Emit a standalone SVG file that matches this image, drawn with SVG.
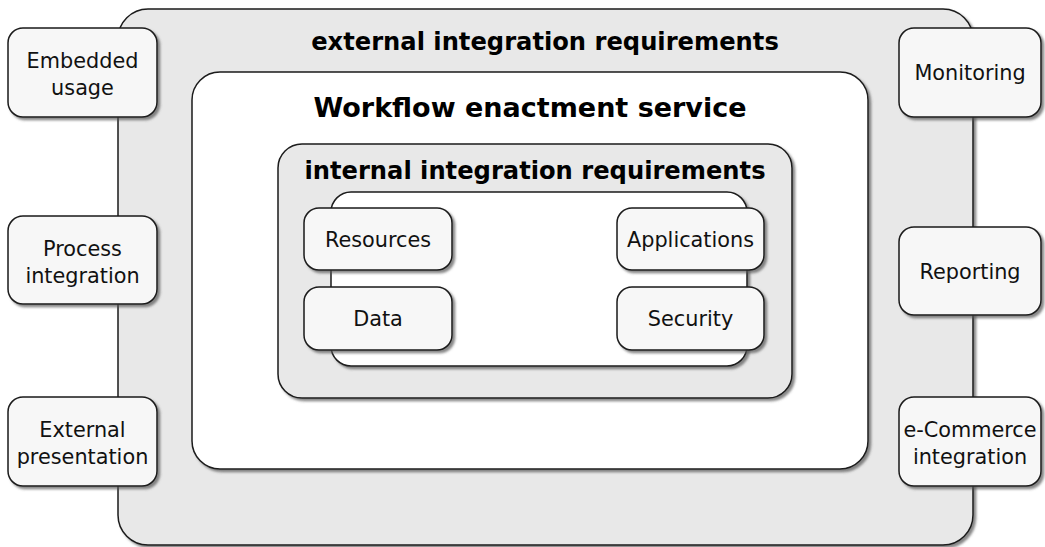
<svg xmlns="http://www.w3.org/2000/svg" width="1045" height="547" viewBox="0 0 1045 547">
<defs>
<filter id="sh" x="-5%" y="-5%" width="115%" height="115%">
<feDropShadow dx="2.5" dy="2.5" stdDeviation="1" flood-color="#555" flood-opacity="0.7"/>
</filter>
<style>
.box{stroke:#1a1a1a;stroke-width:1.5;filter:url(#sh)}
.grey{fill:#e8e8e8}
.white{fill:#ffffff}
.node{fill:#f7f7f7;stroke:#1a1a1a;stroke-width:1.5;filter:url(#sh)}
.t{font-family:"DejaVu Sans","Verdana",sans-serif;font-size:20.8px;fill:#111;text-anchor:middle}
.h{font-family:"DejaVu Sans","Verdana",sans-serif;font-weight:bold;fill:#000;text-anchor:middle}
</style>
</defs>
<g id="external-integration">
<rect class="box grey" x="118" y="9" width="855" height="536" rx="30"/>
<text class="h" x="545" y="50" font-size="24.2">external integration requirements</text>
</g>
<g id="workflow-enactment-service">
<rect class="box white" x="192" y="72" width="676" height="397" rx="28"/>
<text class="h" x="530" y="117" font-size="27">Workflow enactment service</text>
</g>
<g id="internal-integration">
<rect class="box grey" x="278" y="144" width="514" height="254" rx="24"/>
<text class="h" x="535" y="179" font-size="24.2">internal integration requirements</text>
<rect class="box white" x="331" y="192" width="416" height="174" rx="20"/>
</g>
<g id="resources">
<rect class="node" x="304" y="208" width="148" height="62" rx="15"/>
<text class="t" x="378" y="247">Resources</text>
</g>
<g id="data">
<rect class="node" x="304" y="287" width="148" height="63" rx="15"/>
<text class="t" x="378" y="326">Data</text>
</g>
<g id="applications">
<rect class="node" x="617" y="208" width="147" height="62" rx="15"/>
<text class="t" x="690.5" y="247">Applications</text>
</g>
<g id="security">
<rect class="node" x="617" y="287" width="147" height="63" rx="15"/>
<text class="t" x="690.5" y="326">Security</text>
</g>
<g id="embedded-usage">
<rect class="node" x="8" y="28" width="149" height="89" rx="15"/>
<text class="t" x="82.5" y="68">Embedded</text>
<text class="t" x="82.5" y="95">usage</text>
</g>
<g id="process-integration">
<rect class="node" x="8" y="216" width="149" height="88" rx="15"/>
<text class="t" x="82.5" y="256">Process</text>
<text class="t" x="82.5" y="283">integration</text>
</g>
<g id="external-presentation">
<rect class="node" x="8" y="397" width="149" height="89" rx="15"/>
<text class="t" x="82.5" y="437">External</text>
<text class="t" x="82.5" y="464">presentation</text>
</g>
<g id="monitoring">
<rect class="node" x="899" y="28" width="142" height="89" rx="15"/>
<text class="t" x="970" y="80">Monitoring</text>
</g>
<g id="reporting">
<rect class="node" x="899" y="227" width="142" height="88" rx="15"/>
<text class="t" x="970" y="279">Reporting</text>
</g>
<g id="ecommerce-integration">
<rect class="node" x="899" y="397" width="142" height="89" rx="15"/>
<text class="t" x="970" y="437">e-Commerce</text>
<text class="t" x="970" y="464">integration</text>
</g>
<g id="connectors"></g>
</svg>
